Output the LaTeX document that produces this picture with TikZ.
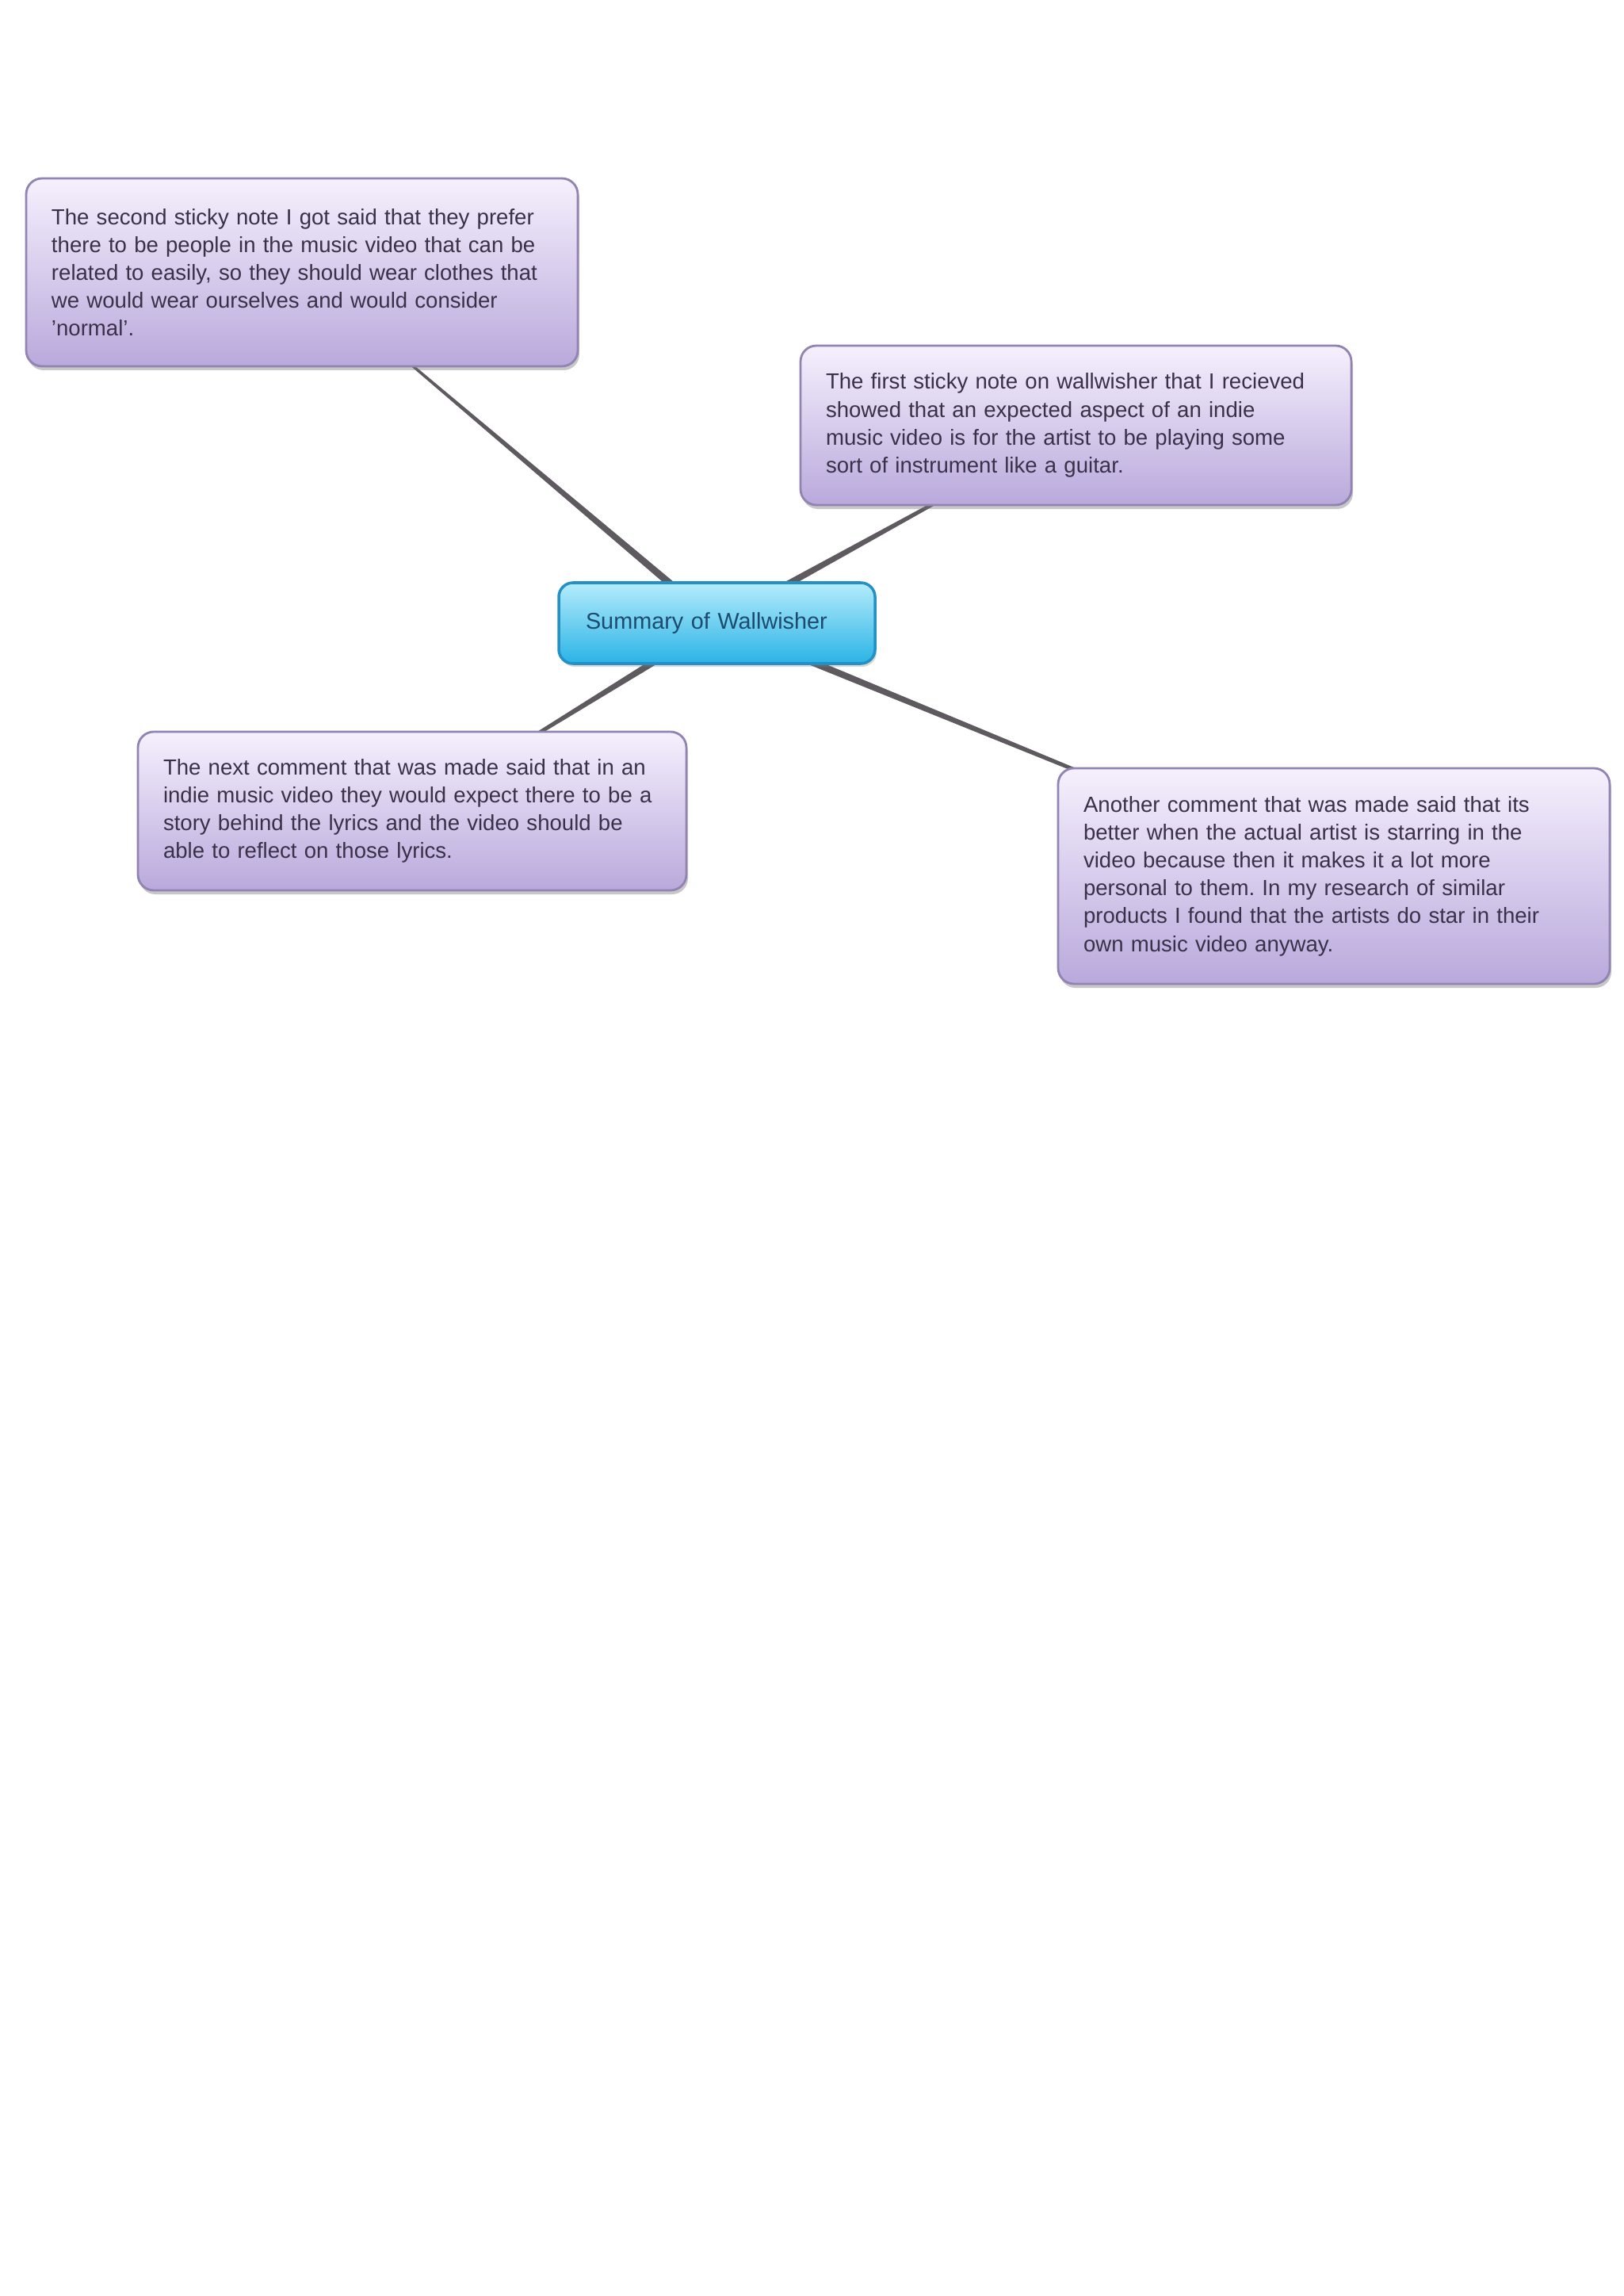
\documentclass[tikz,border=0pt]{standalone}
\usepackage{fontspec}
\setmainfont{Liberation Sans}
\usetikzlibrary{calc,shadows,backgrounds}
\frenchspacing
\definecolor{notetop}{HTML}{F6F0FD}
\definecolor{notebottom}{HTML}{B9A9DC}
\definecolor{noteedge}{HTML}{9284B2}
\definecolor{notetext}{HTML}{3A3148}
\definecolor{hubtop}{HTML}{B4ECFB}
\definecolor{hubbottom}{HTML}{2AB3E6}
\definecolor{hubedge}{HTML}{2490C4}
\definecolor{hubtext}{HTML}{1D4B6E}
\definecolor{linkgrey}{HTML}{5E5A60}
\def\taper(#1)(#2){\fill[linkgrey] ($(#1.center)!0.05cm!90:(#2.center)$) -- ($(#2.center)!0.005cm!-90:(#1.center)$) -- ($(#2.center)!0.005cm!90:(#1.center)$) -- ($(#1.center)!0.05cm!-90:(#2.center)$) -- cycle;}
\tikzset{
	note/.style={draw=noteedge, line width=0.8pt, rounded corners=0.2cm, top color=notetop, bottom color=notebottom, text=notetext, font=\fontsize{7.85}{10}\selectfont, align=left, inner xsep=0.32cm, inner ysep=0pt, drop shadow={shadow xshift=0.02cm, shadow yshift=-0.05cm, opacity=0.4, fill=black!55}},
	hub/.style={draw=hubedge, line width=1pt, rounded corners=0.18cm, top color=hubtop, bottom color=hubbottom, text=hubtext, font=\fontsize{8.2}{10}\selectfont, align=left, inner xsep=0.34cm, inner ysep=0pt, drop shadow={shadow xshift=0.02cm, shadow yshift=-0.04cm, opacity=0.3, fill=black!50}}
}

\begin{document}
\begin{tikzpicture}
		%%%%% START %%%%%
		
		\useasboundingbox (0, 0) rectangle (20.48, -28.96);
		
		\node[hub, text width=3.31cm, minimum width=3.99cm, minimum height=1.02cm] (summary) at (9.045, -7.86) {Summary of Wallwisher};
		
		\node[note, text width=6.32cm, minimum width=6.96cm, minimum height=2.37cm] (second) at (3.81, -3.435) {The second sticky note I got said that they prefer\\there to be people in the music video that can be\\related to easily, so they should wear clothes that\\we would wear ourselves and would consider\\'normal'.};
		\node[note, text width=6.31cm, minimum width=6.95cm, minimum height=2.01cm] (first) at (13.575, -5.365) {The first sticky note on wallwisher that I recieved\\showed that an expected aspect of an indie\\music video is for the artist to be playing some\\sort of instrument like a guitar.};
		\node[note, text width=6.28cm, minimum width=6.92cm, minimum height=2.00cm] (next) at (5.20, -10.23) {The next comment that was made said that in an\\indie music video they would expect there to be a\\story behind the lyrics and the video should be\\able to reflect on those lyrics.};
		\node[note, text width=6.32cm, minimum width=6.96cm, minimum height=2.72cm] (another) at (16.83, -11.05) {Another comment that was made said that its\\better when the actual artist is starring in the\\video because then it makes it a lot more\\personal to them. In my research of similar\\products I found that the artists do star in their\\own music video anyway.};
		
		\begin{scope}[on background layer]
		\taper(summary)(second)
		\taper(summary)(first)
		\taper(summary)(next)
		\taper(summary)(another)
		\end{scope}
		
		%%%%% END %%%%%
	\end{tikzpicture}
\end{document}
